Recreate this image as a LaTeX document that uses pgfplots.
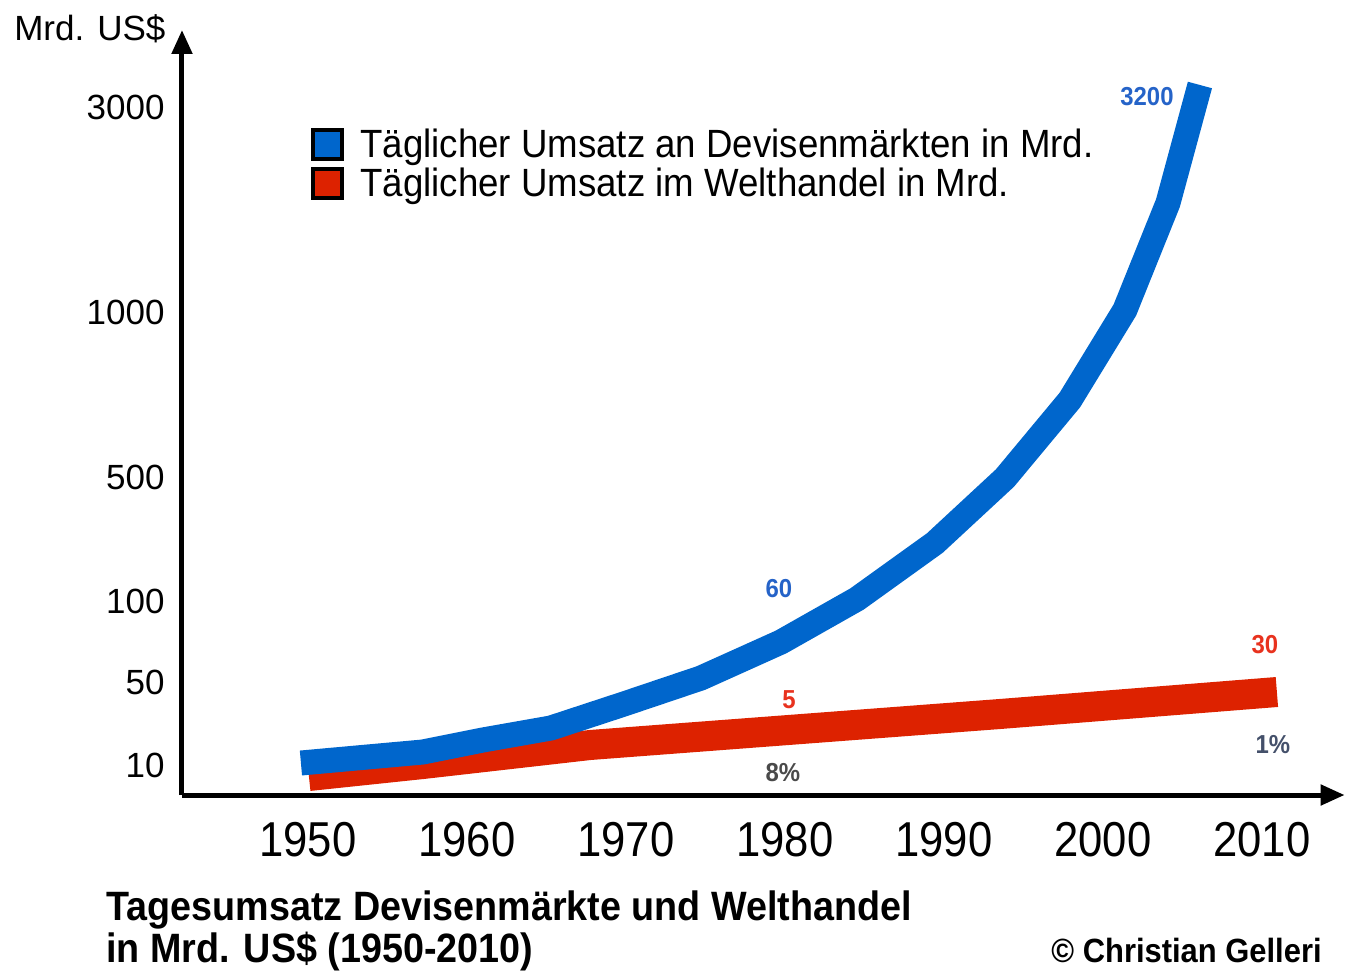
\documentclass[border=0pt]{standalone}
\usepackage{pgfplots}
\pgfplotsset{compat=1.18}
\usepackage{fontspec}
\usetikzlibrary{arrows.meta}
\setmainfont{Liberation Sans}
\newfontfamily\narrowfont{Liberation Sans}[FakeStretch=0.92]
\newfontfamily\legendfont{Liberation Sans}[FakeStretch=0.93]
\newfontfamily\xtickfont{Liberation Sans}[FakeStretch=0.89]

\definecolor{blueC}{HTML}{0066CC}
\definecolor{redC}{HTML}{DD2200}
\definecolor{blueT}{HTML}{2563C8}
\definecolor{redT}{HTML}{E8321E}
\definecolor{grayT}{HTML}{4A4A4A}
\definecolor{grayB}{HTML}{44506A}

% y axis is drawn on the chart's own uneven scale: values are positions
\pgfplotstableread{
year pos
1949.56 32
1957.23 43
1961.00 55
1965.28 67
1969.87 91
1974.72 117
1979.75 153
1984.53 196
1989.43 252
1993.84 317
1997.92 395
2001.38 485
2004.09 592
2006.10 710
}\devisen
\pgfplotstableread{
year pos
1950.06 19
1957.23 31
1967.74 50
1993.52 81
2010.94 103
}\welthandel

\begin{document}
\begin{tikzpicture}
\useasboundingbox (-91pt,-87.5pt) rectangle (582.5pt,397.5pt);
\begin{axis}[
    at={(0,0)}, anchor=south west,
    clip=false,
    x=7.95pt, y=0.5pt,
    xmin=1942.08, xmax=2015.2, ymin=0, ymax=765,
    axis lines=left,
    axis line style={line width=2.5pt, -{Triangle[length=12pt,width=10pt]}},
    major tick length=0pt,
    xtick={1950,1960,1970,1980,1990,2000,2010},
    xticklabels={1950,1960,1970,1980,1990,2000,2010},
    ytick={30,113,194,318,483,688},
    yticklabels={10,50,100,500,1000,3000},
    xticklabel style={font=\xtickfont\fontsize{24.5}{28}\selectfont, anchor=north, inner sep=0pt, yshift=-13.5pt},
    yticklabel style={font=\fontsize{17.5}{21}\selectfont, anchor=east, inner sep=0pt, xshift=-8.5pt},
    legend style={at={(0.1109,0.8726)}, anchor=north west, draw=none, fill=none,
        inner sep=0pt, row sep=3pt, nodes={inner sep=0pt},
        font=\legendfont\fontsize{19.7}{22}\selectfont,
        /tikz/every odd column/.style={column sep=8pt}},
    legend cell align=left,
    reverse legend,
]
\addplot[redC, line width=15pt, line cap=butt, line join=miter,
    legend image code/.code={\draw[line width=2pt, draw=black, fill=redC] (0pt,-7.25pt) rectangle (14.5pt,7.25pt);}]
    table[x=year, y=pos] {\welthandel};
\addlegendentry{Täglicher Umsatz im Welthandel in Mrd.}
\addplot[blueC, line width=12.5pt, line cap=butt, line join=miter,
    legend image code/.code={\draw[line width=2pt, draw=black, fill=blueC] (0pt,-7.25pt) rectangle (14.5pt,7.25pt);}]
    table[x=year, y=pos] {\devisen};
\addlegendentry{Täglicher Umsatz an Devisenmärkten in Mrd.}

\node[anchor=base west, inner sep=0pt, font=\fontsize{17.5}{21}\selectfont] at (axis cs:1931.51,754) {Mrd. US\$};
\node[font=\narrowfont\bfseries\fontsize{13}{15}\selectfont, text=blueT] at (axis cs:2002.77,698) {3200};
\node[font=\narrowfont\bfseries\fontsize{13}{15}\selectfont, text=blueT] at (axis cs:1979.62,206) {60};
\node[font=\narrowfont\bfseries\fontsize{13}{15}\selectfont, text=redT] at (axis cs:1980.25,95) {5};
\node[font=\narrowfont\bfseries\fontsize{13}{15}\selectfont, text=redT] at (axis cs:2010.19,150) {30};
\node[font=\narrowfont\bfseries\fontsize{13}{15}\selectfont, text=grayT] at (axis cs:1979.87,22) {8\%};
\node[font=\narrowfont\bfseries\fontsize{13}{15}\selectfont, text=grayB] at (axis cs:2010.69,50) {1\%};

\node[anchor=base west, inner sep=0pt, font=\narrowfont\bfseries\fontsize{20.5}{24}\selectfont] at (axis cs:1937.3,-125) {Tagesumsatz Devisenmärkte und Welthandel};
\node[anchor=base west, inner sep=0pt, font=\narrowfont\bfseries\fontsize{20.5}{24}\selectfont] at (axis cs:1937.3,-167) {in Mrd. US\$ (1950-2010)};
\node[anchor=base east, inner sep=0pt, font=\narrowfont\bfseries\fontsize{16.8}{19}\selectfont] at (axis cs:2013.78,-167) {© Christian Gelleri};
\end{axis}
\end{tikzpicture}
\end{document}
